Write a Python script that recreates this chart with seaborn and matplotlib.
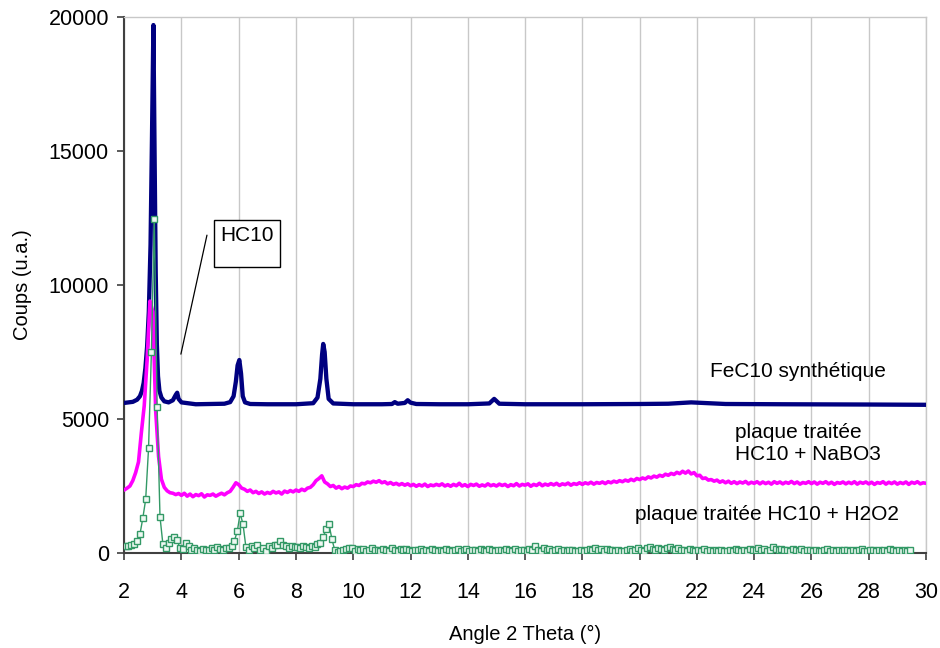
import numpy as np
import pandas as pd
import matplotlib
matplotlib.use("Agg")
import matplotlib.pyplot as plt
from matplotlib.patches import Rectangle
import seaborn as sns

# ---------------- data ----------------
# FeC10 synthétique (navy)
fe_x = [2.0, 2.3, 2.45, 2.55, 2.62, 2.68, 2.74, 2.8, 2.86, 2.92, 2.97, 3.02, 3.06, 3.1,
        3.14, 3.18, 3.23, 3.3, 3.4, 3.55, 3.7, 3.8, 3.85, 3.9, 4.0, 4.5, 5.0, 5.5, 5.7,
        5.82, 5.9, 5.96, 6.02, 6.08, 6.14, 6.22, 6.4, 7.0, 8.0, 8.6, 8.75, 8.85, 8.91,
        8.95, 9.0, 9.06, 9.14, 9.3, 10.0, 11.0, 11.35, 11.45, 11.55, 11.8, 11.9, 12.0,
        12.2, 13.0, 14.0, 14.75, 14.92, 15.1, 16.0, 18.0, 20.0, 21.0, 21.8, 23.0, 25.0,
        28.0, 30.0]
fe_y = [5600, 5640, 5720, 5850, 6050, 6350, 6900, 7700, 9000, 11500, 15500, 19700, 15000,
        10500, 7800, 6600, 6050, 5800, 5660, 5620, 5700, 5900, 5980, 5750, 5620, 5550, 5560,
        5570, 5630, 5850, 6400, 7000, 7200, 6700, 5850, 5620, 5560, 5550, 5550, 5590, 5800,
        6500, 7400, 7800, 7500, 6500, 5750, 5580, 5550, 5550, 5560, 5630, 5570, 5600, 5700,
        5610, 5560, 5550, 5550, 5580, 5750, 5570, 5550, 5550, 5560, 5570, 5620, 5560, 5550,
        5540, 5530]

# plaque traitée HC10 + NaBO3 (magenta), one value every 0.1° from 2.0 to 30.0
nb_y = [
    2350, 2420, 2500, 2700, 3000, 3400, 4500, 5500, 7200, 9400,
    9000, 5300, 3600, 2750, 2450, 2320, 2250, 2230, 2180, 2220,
    2150, 2230, 2120, 2200, 2100, 2180, 2140, 2210, 2090, 2170,
    2150, 2200, 2120, 2180, 2230, 2170, 2250, 2300, 2450, 2620,
    2550, 2420, 2380, 2300, 2350, 2250, 2300, 2220, 2280, 2200,
    2260, 2220, 2300, 2240, 2280, 2200, 2310, 2260, 2330, 2280,
    2350, 2300, 2380, 2330, 2420, 2450, 2550, 2700, 2780, 2880,
    2650, 2580, 2480, 2520, 2420, 2480, 2400, 2460, 2420, 2500,
    2480, 2550, 2520, 2600, 2580, 2650, 2620, 2680, 2640, 2700,
    2620, 2660, 2580, 2630, 2560, 2600, 2540, 2590, 2530, 2580,
    2510, 2560, 2490, 2550, 2500, 2570, 2480, 2540, 2510, 2560,
    2520, 2580, 2500, 2550, 2490, 2560, 2510, 2600, 2500, 2550,
    2480, 2560, 2520, 2570, 2490, 2540, 2500, 2580, 2510, 2550,
    2500, 2570, 2520, 2560, 2480, 2550, 2510, 2590, 2500, 2560,
    2530, 2580, 2490, 2560, 2520, 2600, 2510, 2570, 2530, 2590,
    2540, 2600, 2520, 2580, 2550, 2610, 2530, 2590, 2560, 2620,
    2560, 2620, 2580, 2640, 2570, 2630, 2600, 2650, 2590, 2660,
    2620, 2680, 2640, 2700, 2660, 2720, 2680, 2750, 2700, 2780,
    2740, 2800, 2760, 2840, 2800, 2870, 2830, 2900, 2860, 2940,
    2900, 2970, 2930, 3010, 2960, 3050, 2980, 3060, 2950, 3000,
    2880, 2900, 2780, 2800, 2720, 2740, 2680, 2720, 2640, 2690,
    2620, 2680, 2600, 2660, 2590, 2650, 2610, 2670, 2580, 2640,
    2600, 2660, 2580, 2650, 2590, 2640, 2570, 2660, 2600, 2650,
    2580, 2640, 2600, 2670, 2590, 2650, 2570, 2630, 2600, 2660,
    2590, 2650, 2570, 2640, 2600, 2660, 2580, 2640, 2560, 2630,
    2600, 2650, 2580, 2640, 2590, 2660, 2570, 2640, 2600, 2650,
    2580, 2640, 2560, 2630, 2600, 2660, 2570, 2640, 2590, 2650,
    2570, 2630, 2590, 2650, 2560, 2640, 2600, 2660, 2580, 2620,
    2600]

# plaque traitée HC10 + H2O2 (green), one value every 0.1° from 2.05 to 29.45
h2_y = [
    250, 260, 300, 340, 450, 700, 1300, 2000, 3900, 7500,
    12480, 5460, 1350, 340, 170, 390, 530, 590, 470, 170,
    150, 390, 250, 110, 170, 120, 90, 150, 130, 100,
    180, 120, 220, 160, 110, 180, 170, 250, 460, 820,
    1480, 1070, 220, 120, 250, 180, 300, 120, 200, 90,
    250, 200, 280, 300, 450, 300, 250, 200, 250, 220,
    230, 200, 250, 220, 200, 250, 220, 330, 360, 610,
    880, 1080, 540, 110, 50, 80, 120, 150, 200, 180,
    90, 160, 110, 140, 80, 120, 170, 100, 130, 90,
    150, 110, 80, 170, 120, 90, 140, 100, 160, 110,
    80, 130, 100, 150, 90, 120, 70, 140, 110, 80,
    120, 90, 150, 100, 70, 130, 160, 90, 110, 140,
    80, 120, 100, 60, 140, 110, 90, 150, 100, 70,
    130, 100, 80, 160, 110, 90, 140, 70, 120, 100,
    80, 150, 110, 250, 130, 90, 170, 100, 140, 80,
    110, 160, 90, 130, 70, 120, 100, 60, 90, 110,
    80, 130, 150, 100, 180, 120, 160, 90, 140, 110,
    100, 70, 130, 90, 60, 110, 150, 80, 120, 170,
    130, 90, 180, 230, 150, 120, 200, 160, 110, 190,
    240, 150, 120, 170, 100, 130, 90, 150, 110, 80,
    120, 90, 140, 70, 110, 60, 100, 80, 130, 90,
    60, 110, 80, 140, 100, 70, 120, 90, 150, 110,
    130, 170, 100, 140, 80, 120, 210, 150, 110, 160,
    100, 130, 80, 150, 110, 90, 140, 70, 120, 100,
    80, 120, 90, 60, 110, 140, 80, 100, 70, 120,
    90, 130, 100, 70, 120, 80, 110, 150, 90, 60,
    100, 130, 80, 110, 70, 120, 90, 160, 100, 80,
    110, 70, 130, 90, 100]

nb_x = np.round(2.0 + 0.1 * np.arange(len(nb_y)), 2)
h2_x = np.round(2.05 + 0.1 * np.arange(len(h2_y)), 2)

x_ticks = list(range(2, 31, 2))
y_ticks = [0, 5000, 10000, 15000, 20000]

label_fe = "FeC10 synthétique"
label_nb = "plaque traitée\nHC10 + NaBO3"
label_h2 = "plaque traitée HC10 + H2O2"
label_box = "HC10"

df_fe = pd.DataFrame({"x": fe_x, "y": fe_y})
df_nb = pd.DataFrame({"x": nb_x, "y": nb_y})
df_h2 = pd.DataFrame({"x": h2_x, "y": h2_y})

# ---------------- styling ----------------
sns.set_style("ticks")
plt.rcParams["font.family"] = ["Liberation Sans", "DejaVu Sans"]
plt.rcParams["text.color"] = "black"
plt.rcParams["axes.labelcolor"] = "black"
plt.rcParams["xtick.color"] = "black"
plt.rcParams["ytick.color"] = "black"

W, H = 940, 648
fig = plt.figure(figsize=(W / 100, H / 100), dpi=100)
left, right, top, bottom = 124.2, 926.0, 17.0, 553.0
ax = fig.add_axes([left / W, 1 - bottom / H, (right - left) / W, (bottom - top) / H])

navy = "#000080"
magenta = "#FF00FF"
green = "#339966"

sns.lineplot(data=df_fe, x="x", y="y", ax=ax, color=navy, linewidth=3.1,
             estimator=None, sort=False, zorder=3)
sns.lineplot(data=df_nb, x="x", y="y", ax=ax, color=magenta, linewidth=2.6,
             estimator=None, sort=False, zorder=4)
sns.lineplot(data=df_h2, x="x", y="y", ax=ax, color=green, linewidth=1.0,
             estimator=None, sort=False, marker="s", markersize=4,
             markerfacecolor="#eef8f2", markeredgecolor=green, markeredgewidth=1.0,
             zorder=5)

ax.set_xlim(2, 30)
ax.set_ylim(0, 20000)
ax.set_xticks(x_ticks)
ax.set_yticks(y_ticks)
ax.set_xticklabels([str(t) for t in x_ticks])
ax.set_yticklabels([str(t) for t in y_ticks])
ax.tick_params(axis="both", labelsize=15.5, direction="out", length=5, width=1.2,
               color="#404040", labelcolor="black")
ax.tick_params(axis="x", pad=16)
ax.tick_params(axis="y", pad=6)

ax.xaxis.grid(True, color="#c8c8c8", linewidth=1.0)
ax.yaxis.grid(False)
ax.set_axisbelow(True)
for s in ["top", "right"]:
    ax.spines[s].set_visible(True)
    ax.spines[s].set_color("#c8c8c8")
    ax.spines[s].set_linewidth(1.0)
for s in ["left", "bottom"]:
    ax.spines[s].set_color("#404040")
    ax.spines[s].set_linewidth(1.5)

ax.set_xlabel("Angle 2 Theta (°)", fontsize=14.5, labelpad=16)
ax.set_ylabel("Coups (u.a.)", fontsize=14.5, labelpad=12)

# annotations
ax.text(22.45, 6760, label_fe, fontsize=15, ha="left", va="center")
ax.text(23.32, 4100, label_nb, fontsize=15, ha="left", va="center", linespacing=1.2)
ax.text(19.83, 1455, label_h2, fontsize=15, ha="left", va="center")

ax.add_patch(Rectangle((5.14, 10670), 7.44 - 5.14, 12420 - 10670, facecolor="white",
                       edgecolor="black", linewidth=1.0, zorder=6))
ax.text(6.29, 11850, label_box, fontsize=15, ha="center", va="center", zorder=7)
ax.plot([4.89, 3.98], [11860, 7420], color="black", linewidth=0.9, zorder=6)

fig.savefig("out.png", dpi=100, facecolor="white")
